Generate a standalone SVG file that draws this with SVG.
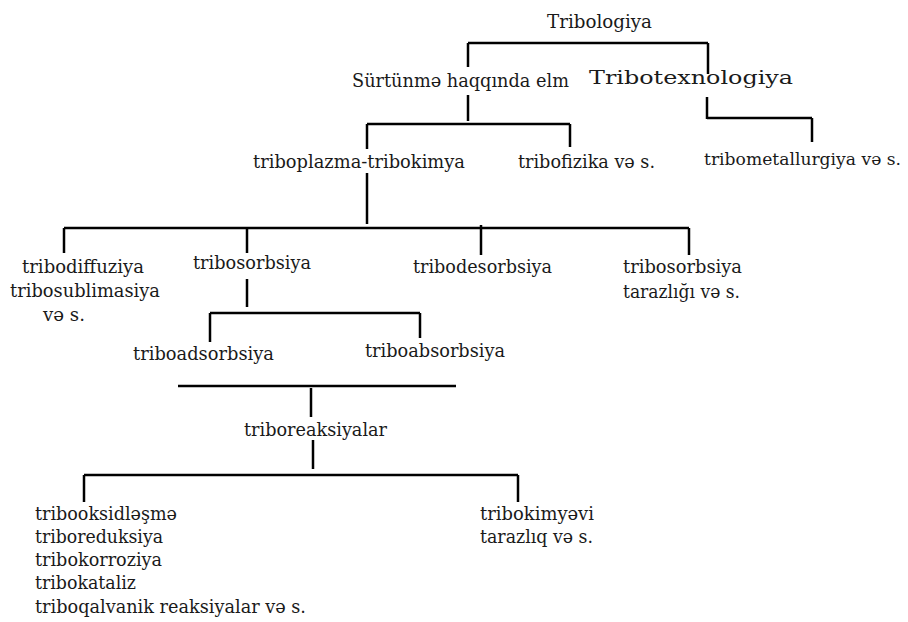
<svg xmlns="http://www.w3.org/2000/svg" width="908" height="622" viewBox="0 0 908 622">
<style>
.t text{font-size:18.5px;fill:#1a1a1a}
.t text.sm{font-size:16.8px}
.c line{stroke:#000;stroke-width:2.5;stroke-linecap:butt}
</style>
<rect width="908" height="622" fill="#fff"/>
<g class="c" id="connectors">
<line x1="468" y1="43" x2="708" y2="43"/>
<line x1="468" y1="43" x2="468" y2="67"/>
<line x1="708" y1="43" x2="708" y2="74"/>
<line x1="468" y1="95" x2="468" y2="121"/>
<line x1="367" y1="124" x2="570" y2="124"/>
<line x1="367" y1="124" x2="367" y2="149"/>
<line x1="570" y1="124" x2="570" y2="147"/>
<line x1="707" y1="97" x2="707" y2="119"/>
<line x1="707" y1="118" x2="812" y2="118"/>
<line x1="812" y1="118" x2="812" y2="142"/>
<line x1="367" y1="173" x2="367" y2="224"/>
<line x1="64" y1="228" x2="689" y2="228"/>
<line x1="64" y1="228" x2="64" y2="253"/>
<line x1="247" y1="228" x2="247" y2="253"/>
<line x1="481" y1="225" x2="481" y2="255"/>
<line x1="689" y1="228" x2="689" y2="255"/>
<line x1="247" y1="279" x2="247" y2="307"/>
<line x1="210" y1="313" x2="420" y2="313"/>
<line x1="210" y1="313" x2="210" y2="342"/>
<line x1="420" y1="313" x2="420" y2="338"/>
<line x1="178" y1="386" x2="456" y2="386"/>
<line x1="311" y1="388" x2="311" y2="417"/>
<line x1="313" y1="440" x2="313" y2="469"/>
<line x1="84" y1="475" x2="518" y2="475"/>
<line x1="84" y1="475" x2="84" y2="502"/>
<line x1="518" y1="475" x2="518" y2="502"/>
</g>
<g class="t" font-family="'DejaVu Serif', serif">
<g id="n-tribologiya"><text x="547" y="28" textLength="105" lengthAdjust="spacingAndGlyphs">Tribologiya</text></g>
<g id="n-surtunme"><text x="352" y="87" textLength="217" lengthAdjust="spacingAndGlyphs">Sürtünmə haqqında elm</text></g>
<g id="n-tribotexnologiya"><text x="589" y="84" textLength="204" lengthAdjust="spacingAndGlyphs">Tribotexnologiya</text></g>
<g id="n-triboplazma"><text x="253" y="168" textLength="212" lengthAdjust="spacingAndGlyphs">triboplazma-tribokimya</text></g>
<g id="n-tribofizika"><text x="518" y="168" textLength="137" lengthAdjust="spacingAndGlyphs">tribofizika və s.</text></g>
<g id="n-tribometallurgiya"><text class="sm" x="704" y="165" textLength="197" lengthAdjust="spacingAndGlyphs">tribometallurgiya və s.</text></g>
<g id="n-tribodiffuziya"><text x="22" y="273" textLength="122" lengthAdjust="spacingAndGlyphs">tribodiffuziya</text><text x="10" y="297" textLength="150" lengthAdjust="spacingAndGlyphs">tribosublimasiya</text><text x="43" y="321" textLength="42" lengthAdjust="spacingAndGlyphs">və s.</text></g>
<g id="n-tribosorbsiya"><text x="193" y="269" textLength="118" lengthAdjust="spacingAndGlyphs">tribosorbsiya</text></g>
<g id="n-tribodesorbsiya"><text x="413" y="273" textLength="139" lengthAdjust="spacingAndGlyphs">tribodesorbsiya</text></g>
<g id="n-tribosorbsiya-tarazligi"><text x="623" y="273" textLength="119" lengthAdjust="spacingAndGlyphs">tribosorbsiya</text><text x="623" y="298" textLength="117" lengthAdjust="spacingAndGlyphs">tarazlığı və s.</text></g>
<g id="n-triboadsorbsiya"><text x="133" y="360" textLength="141" lengthAdjust="spacingAndGlyphs">triboadsorbsiya</text></g>
<g id="n-triboabsorbsiya"><text x="365" y="357" textLength="140" lengthAdjust="spacingAndGlyphs">triboabsorbsiya</text></g>
<g id="n-triboreaksiyalar"><text x="244" y="436" textLength="143" lengthAdjust="spacingAndGlyphs">triboreaksiyalar</text></g>
<g id="n-reactions"><text x="35" y="520" textLength="142" lengthAdjust="spacingAndGlyphs">tribooksidləşmə</text><text x="35" y="543" textLength="128" lengthAdjust="spacingAndGlyphs">triboreduksiya</text><text x="35" y="566" textLength="127" lengthAdjust="spacingAndGlyphs">tribokorroziya</text><text x="35" y="589" textLength="101" lengthAdjust="spacingAndGlyphs">tribokataliz</text><text x="35" y="613" textLength="271" lengthAdjust="spacingAndGlyphs">triboqalvanik reaksiyalar və s.</text></g>
<g id="n-tribokimyevi"><text x="480" y="520" textLength="114" lengthAdjust="spacingAndGlyphs">tribokimyəvi</text><text x="480" y="543" textLength="113" lengthAdjust="spacingAndGlyphs">tarazlıq və s.</text></g>
</g>
</svg>
